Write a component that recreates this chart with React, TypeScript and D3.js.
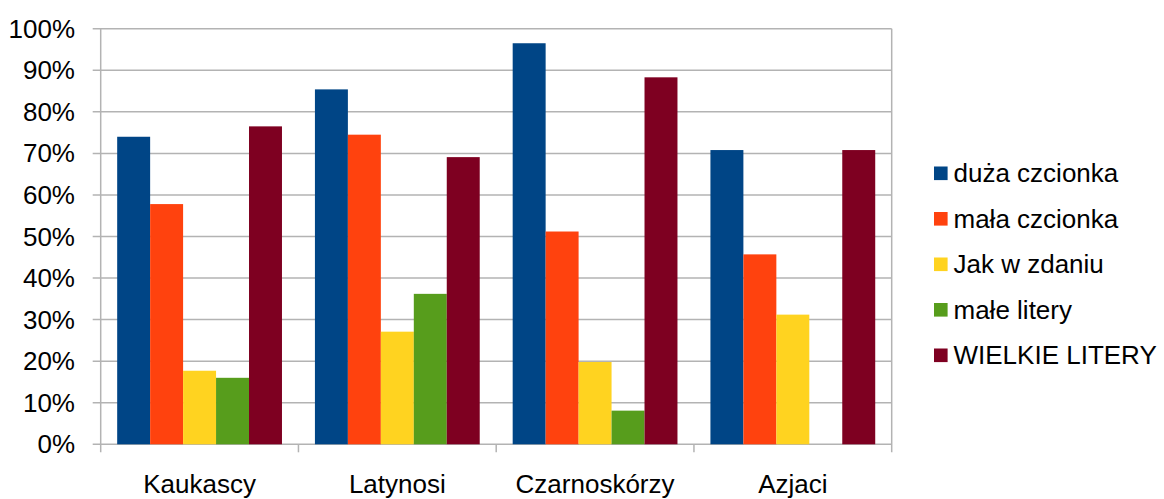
import { useRef, useEffect } from 'react'
import * as d3 from 'd3'

const categories = ['Kaukascy', 'Latynosi', 'Czarnoskórzy', 'Azjaci']
const seriesNames = ['duża czcionka', 'mała czcionka', 'Jak w zdaniu', 'małe litery', 'WIELKIE LITERY']
const seriesColors = ['#004586', '#ff420e', '#ffd320', '#579d1c', '#7e0021']
const duzaCzcionka = [74.0, 85.4, 96.5, 70.8]
const malaCzcionka = [57.8, 74.5, 51.2, 45.7]
const jakWZdaniu = [17.7, 27.1, 19.8, 31.2]
const maleLitery = [16.0, 36.2, 8.1, 0]
const wielkieLitery = [76.5, 69.1, 88.3, 70.8]
const yTicks = [0, 10, 20, 30, 40, 50, 60, 70, 80, 90, 100]

const FONT = 'Liberation Sans, Arial, sans-serif'

export default function App() {
  const svgRef = useRef<SVGSVGElement>(null)

  useEffect(() => {
    if (!svgRef.current) return
    const svg = d3.select(svgRef.current)
    svg.selectAll('*').remove()

    const width = 1164
    const height = 499
    const left = 100.7
    const right = 891.7
    const top = 28.7
    const bottom = 444.3
    const grid = '#b3b3b3'

    svg.attr('width', width).attr('height', height)

    const x = d3.scaleBand<string>().domain(categories).range([left, right])
    const inner = d3
      .scaleBand<number>()
      .domain(d3.range(seriesNames.length))
      .range([0, x.bandwidth()])
      .paddingOuter(0.5)
    const y = d3.scaleLinear().domain([0, 100]).range([bottom, top])

    // Grid lines
    svg
      .append('g')
      .selectAll('line')
      .data(yTicks)
      .enter()
      .append('line')
      .attr('x1', left - 8)
      .attr('x2', right)
      .attr('y1', (d) => y(d))
      .attr('y2', (d) => y(d))
      .attr('stroke', grid)
      .attr('stroke-width', 1.5)

    // Vertical frame lines
    ;[left, right].forEach((xx) => {
      svg
        .append('line')
        .attr('x1', xx)
        .attr('x2', xx)
        .attr('y1', top)
        .attr('y2', bottom + 8)
        .attr('stroke', grid)
        .attr('stroke-width', 1.5)
    })

    // Category ticks
    svg
      .append('g')
      .selectAll('line')
      .data(categories.slice(1))
      .enter()
      .append('line')
      .attr('x1', (d) => x(d)!)
      .attr('x2', (d) => x(d)!)
      .attr('y1', bottom)
      .attr('y2', bottom + 8)
      .attr('stroke', grid)
      .attr('stroke-width', 1.5)

    // Y labels
    svg
      .append('g')
      .selectAll('text')
      .data(yTicks)
      .enter()
      .append('text')
      .attr('x', 75)
      .attr('y', (d) => y(d) + 9)
      .attr('text-anchor', 'end')
      .attr('font-family', FONT)
      .attr('font-size', 26)
      .attr('fill', '#000')
      .text((d) => `${d}%`)

    // X labels
    svg
      .append('g')
      .selectAll('text')
      .data(categories)
      .enter()
      .append('text')
      .attr('x', (d) => x(d)! + x.bandwidth() / 2)
      .attr('y', 493)
      .attr('text-anchor', 'middle')
      .attr('font-family', FONT)
      .attr('font-size', 26)
      .attr('fill', '#000')
      .text((d) => d)

    // Bars
    const seriesData = [duzaCzcionka, malaCzcionka, jakWZdaniu, maleLitery, wielkieLitery]
    seriesData.forEach((values, si) => {
      svg
        .append('g')
        .selectAll('rect')
        .data(values)
        .enter()
        .append('rect')
        .attr('x', (_, i) => x(categories[i])! + inner(si)!)
        .attr('width', inner.bandwidth())
        .attr('y', (d) => y(d))
        .attr('height', (d) => bottom - y(d))
        .attr('fill', seriesColors[si])
    })

    // Legend
    const legend = svg.append('g')
    seriesNames.forEach((name, i) => {
      const cy = 173.3 + i * 45.5
      legend
        .append('rect')
        .attr('x', 934)
        .attr('y', cy - 6.8)
        .attr('width', 13.6)
        .attr('height', 13.6)
        .attr('fill', seriesColors[i])
      legend
        .append('text')
        .attr('x', 953.5)
        .attr('y', cy + 9)
        .attr('font-family', FONT)
        .attr('font-size', 26)
        .attr('fill', '#000')
        .text(name)
    })
  }, [])

  return (
    <div style={{ position: 'fixed', left: 0, top: 0, background: '#fff' }}>
      <svg ref={svgRef} style={{ display: 'block' }} />
    </div>
  )
}
